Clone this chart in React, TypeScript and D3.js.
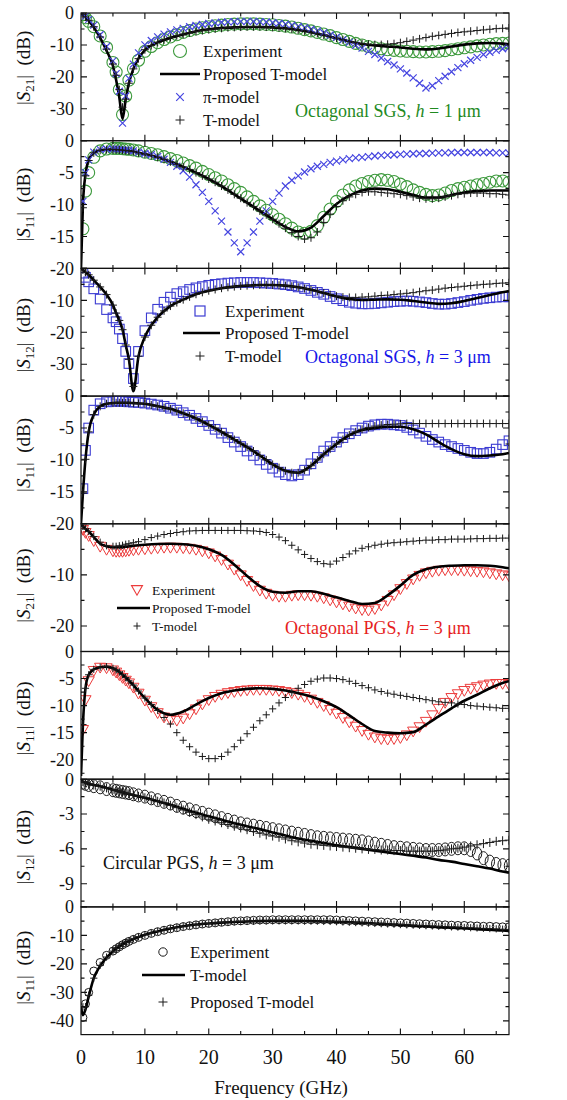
import React from "react";
import * as d3 from "d3";

// Frequency grid (GHz) of the sampled marker series
const FREQ_MARK = [
  0.3, 0.7, 1.2, 2, 3, 4, 5, 5.5, 6, 6.5, 7, 7.5, 8.2, 9,
  10, 11, 12, 13, 14, 15, 16, 17, 18, 19,
  20, 21, 22, 23, 24, 25, 26, 27, 28, 29,
  30, 31, 32, 33, 34, 35, 36, 37, 38, 39,
  40, 41, 42, 43, 44, 45, 46, 47, 48, 49,
  50, 51, 52, 53, 54, 55, 56, 57, 58, 59,
  60, 61, 62, 63, 64, 65, 66, 67,
];

// Frequency grid (GHz) of the solid model curves
const FREQ_LINE = [
  0, 0.3, 0.7, 1.2, 2, 3, 4, 5, 5.5, 6, 6.5, 7, 7.5, 8.2, 9, 10,
  12, 14, 16, 18, 20, 22, 24, 26, 28, 30, 32, 34, 36, 38, 40, 42, 44, 46, 48, 50, 52, 54, 56, 58, 60, 62, 64, 66,
  67,
];

const X_TICK_LABELS = ["0", "10", "20", "30", "40", "50", "60"];

// ---- Octagonal SGS, h = 1 um : |S21| ----
const P1_PROPOSED = [
  0, -0.5, -1.3, -2.4, -4.5, -7.8, -11.8, -16.6, -21, -26.5, -33.2, -27, -22, -17.5, -14.2, -11.6,
  -9.2, -7.8, -6.7, -5.7, -5.1, -4.7, -4.5, -4.4, -4.4, -4.5, -4.8, -5.3, -6, -6.9, -7.9, -8.9, -9.7, -10.2, -10.5, -10.8, -11.2, -11.4, -11.1, -10.5, -9.9, -9.5, -9.4, -9.6,
  -9.8,
];
const P1_EXP = [
  -0.5, -1.5, -2.6, -4.3, -7.2, -10.8, -15.5, -18.5, -24, -31.8, -26, -21, -17.5, -14.8,
  -12, -10.5, -9.3, -8.3, -7.5, -6.8, -6.1, -5.5, -5, -4.6,
  -4.3, -4, -3.8, -3.6, -3.5, -3.4, -3.4, -3.4, -3.5, -3.6,
  -3.7, -3.9, -4.1, -4.4, -4.8, -5.2, -5.6, -6.1, -6.6, -7.1,
  -7.7, -8.3, -8.9, -9.5, -10, -10.5, -10.9, -11.2, -11.5, -11.7,
  -11.9, -12, -12.1, -12.2, -12.2, -12.1, -12, -11.8, -11.5, -11.2,
  -10.9, -10.6, -10.3, -10, -9.8, -9.6, -9.5, -9.4,
];
const P1_PI = [
  -0.3, -1, -2, -3.8, -6.8, -10.5, -15, -19, -24.5, -34.5, -26, -20.5, -16, -12.5,
  -10, -8.6, -7.5, -6.6, -5.9, -5.3, -4.8, -4.3, -3.9, -3.6,
  -3.3, -3.1, -2.9, -2.8, -2.7, -2.6, -2.6, -2.6, -2.7, -2.8,
  -3, -3.2, -3.5, -3.8, -4.2, -4.6, -5.1, -5.6, -6.2, -6.9,
  -7.6, -8.4, -9.2, -10.1, -11, -12, -13, -14.1, -15.2, -16.3,
  -17.5, -18.8, -20.3, -22, -23.5, -22.8, -21.2, -19.8, -18.4, -17.1,
  -15.9, -14.8, -13.9, -13, -12.3, -11.7, -11.2, -10.8,
];
const P1_T = [
  -0.4, -1.2, -2.3, -4.3, -7.5, -11.3, -16, -19.5, -24, -29.5, -27, -22, -17.5, -14.3,
  -11.5, -10.2, -9.2, -8.4, -7.7, -7.1, -6.6, -6.2, -5.8, -5.5,
  -5.2, -5, -4.8, -4.6, -4.5, -4.4, -4.3, -4.3, -4.3, -4.4,
  -4.5, -4.6, -4.8, -5, -5.3, -5.6, -6, -6.4, -6.9, -7.4,
  -7.9, -8.4, -8.9, -9.3, -9.6, -9.8, -9.9, -9.9, -9.8, -9.6,
  -9.3, -8.9, -8.5, -8.1, -7.7, -7.3, -7, -6.7, -6.4, -6.1,
  -5.9, -5.7, -5.5, -5.3, -5.1, -4.9, -4.8, -4.7,
];

// ---- Octagonal SGS, h = 1 um : |S11| ----
const P2_PROPOSED = [
  -20, -10, -5.3, -3, -1.9, -1.5, -1.4, -1.4, -1.4, -1.45, -1.5, -1.55, -1.6, -1.7, -1.9, -2.1,
  -2.6, -3.3, -4.1, -5, -6, -7.1, -8.4, -9.7, -11, -12.3, -13.5, -14.2, -13.6, -11.8, -9.9, -8.6, -7.8, -7.5, -7.6, -8, -8.5, -8.9, -8.9, -8.5, -8.1, -7.9, -7.8, -7.8,
  -7.8,
];
const P2_EXP = [
  -13.8, -7.9, -5, -2.6, -1.6, -1.3, -1.2, -1.2, -1.2, -1.25, -1.3, -1.35, -1.45, -1.6,
  -1.8, -2, -2.2, -2.5, -2.8, -3.1, -3.5, -3.9, -4.3, -4.8,
  -5.3, -5.8, -6.3, -6.9, -7.5, -8.1, -8.8, -9.5, -10.2, -10.9,
  -11.6, -12.3, -13, -13.7, -14.3, -14.5, -14.2, -13.3, -12, -10.7,
  -9.5, -8.5, -7.7, -7.1, -6.7, -6.4, -6.2, -6.1, -6.2, -6.4,
  -6.8, -7.2, -7.7, -8.1, -8.4, -8.6, -8.5, -8.2, -7.8, -7.5,
  -7.3, -7.1, -6.9, -6.7, -6.5, -6.3, -6.3, -6.5,
];
const P2_PI = [
  -9.5, -5, -3, -1.8, -1.4, -1.3, -1.3, -1.3, -1.35, -1.4, -1.45, -1.5, -1.6, -1.8,
  -2, -2.2, -2.5, -2.9, -3.4, -4, -4.7, -5.7, -6.9, -8.1,
  -9.5, -11, -12.6, -14.3, -16, -17.4, -16, -14.3, -12.6, -11,
  -9.5, -8.2, -7.1, -6.2, -5.5, -4.9, -4.4, -4, -3.7, -3.4,
  -3.2, -3, -2.8, -2.7, -2.6, -2.5, -2.4, -2.3, -2.25, -2.2,
  -2.15, -2.1, -2.05, -2, -2, -1.95, -1.9, -1.9, -1.85, -1.85,
  -1.85, -1.85, -1.85, -1.85, -1.85, -1.9, -1.9, -1.95,
];
const P2_T = [
  -10.5, -5.5, -3.1, -1.9, -1.5, -1.4, -1.4, -1.4, -1.45, -1.5, -1.55, -1.6, -1.7, -1.9,
  -2.1, -2.3, -2.6, -2.9, -3.3, -3.7, -4.1, -4.5, -5, -5.5,
  -6, -6.5, -7.1, -7.7, -8.4, -9, -9.7, -10.3, -11, -11.6,
  -12.3, -13, -13.7, -14.4, -15, -15.4, -15.2, -14.3, -12.8, -11.5,
  -10.3, -9.4, -8.8, -8.4, -8.1, -8, -8, -8.1, -8.2, -8.3,
  -8.4, -8.6, -8.8, -9, -9.1, -9.1, -9, -8.8, -8.6, -8.4,
  -8.3, -8.2, -8.2, -8.2, -8.3, -8.3, -8.4, -8.5,
];

// ---- Octagonal SGS, h = 3 um : |S12| ----
const P3_PROPOSED = [
  0, -0.5, -1.2, -2, -3.7, -5.8, -8.2, -11.5, -14, -16.3, -19.2, -24, -28.5, -38.5, -27.5, -21.5,
  -15.3, -11.8, -9.8, -8.1, -7, -6.2, -5.7, -5.4, -5.2, -5.2, -5.4, -5.9, -6.7, -7.7, -8.8, -9.6, -9.9, -9.8, -9.7, -9.8, -10.2, -10.7, -11.1, -10.9, -10.2, -9.3, -8.3, -7.5,
  -7.1,
];
const P3_EXP = [
  -1.5, -2.8, -4.2, -6.4, -9.6, -12.9, -15.5, -16.7, -19, -22, -26, -29.8, -34.5, -26,
  -19.5, -15.5, -12.8, -10.6, -9, -7.9, -7.3, -6.6, -6.1, -5.7,
  -5.3, -5, -4.8, -4.6, -4.5, -4.4, -4.4, -4.4, -4.5, -4.6,
  -4.7, -4.9, -5.1, -5.4, -5.8, -6.3, -6.9, -7.5, -8.1, -8.8,
  -9.5, -10.1, -10.6, -10.9, -11.1, -11.1, -11, -10.8, -10.6, -10.4,
  -10.3, -10.2, -10.3, -10.5, -10.7, -11, -11.2, -11.2, -11, -10.7,
  -10.4, -10, -9.7, -9.4, -9.2, -9, -8.9, -8.9,
];
const P3_T = [
  -0.5, -1.2, -2, -3.7, -5.8, -8.2, -11.5, -14, -16.3, -19.2, -24, -28.5, -37, -27.5,
  -21.5, -17.8, -15.3, -13.3, -11.8, -10.7, -9.8, -8.9, -8.1, -7.5,
  -7, -6.6, -6.2, -5.9, -5.7, -5.5, -5.4, -5.3, -5.2, -5.2,
  -5.2, -5.3, -5.4, -5.6, -5.9, -6.3, -6.7, -7.2, -7.7, -8.2,
  -8.7, -9, -9.1, -9.1, -9, -8.9, -8.7, -8.5, -8.4, -8.2,
  -8, -7.8, -7.6, -7.3, -7, -6.8, -6.5, -6.2, -6, -5.8,
  -5.6, -5.4, -5.2, -5, -4.9, -4.7, -4.6, -4.5,
];

// ---- Octagonal SGS, h = 3 um : |S11| ----
const P4_PROPOSED = [
  -20, -15.2, -9.9, -5.6, -2.9, -1.6, -1.2, -1.1, -1.05, -1.05, -1.05, -1.05, -1.05, -1.1, -1.15, -1.2,
  -1.6, -2, -2.7, -3.5, -4.5, -5.6, -6.8, -8, -9.3, -10.7, -11.7, -12, -10.9, -9.1, -7.5, -6.1, -5.3, -5, -4.8, -4.8, -5.2, -6, -7.2, -8.3, -9.1, -9.4, -9.3, -9.1,
  -8.9,
];
const P4_EXP = [
  -14.5, -8.5, -5, -2.2, -1.2, -0.9, -0.8, -0.8, -0.8, -0.8, -0.85, -0.9, -0.95, -1,
  -1.1, -1.25, -1.4, -1.6, -1.9, -2.2, -2.6, -3, -3.5, -4,
  -4.6, -5.2, -5.8, -6.5, -7.2, -7.9, -8.6, -9.3, -10, -10.7,
  -11.3, -11.9, -12.3, -12.5, -12.3, -11.6, -10.6, -9.6, -8.6, -7.9,
  -7.2, -6.5, -5.9, -5.4, -5, -4.7, -4.5, -4.4, -4.4, -4.5,
  -4.6, -4.9, -5.3, -5.8, -6.3, -6.8, -7.2, -7.6, -7.9, -8.2,
  -8.5, -8.8, -9, -9, -8.8, -8.3, -7.6, -7,
];
const P4_T = [
  -15.2, -9.9, -5.6, -2.9, -1.6, -1.2, -1.1, -1.05, -1.05, -1.05, -1.05, -1.05, -1.1, -1.15,
  -1.2, -1.4, -1.6, -1.8, -2, -2.35, -2.7, -3.1, -3.5, -4,
  -4.5, -5, -5.6, -6.2, -6.8, -7.4, -8, -8.6, -9.3, -10,
  -10.7, -11.2, -11.7, -12, -12, -11.6, -10.9, -10, -9.1, -8.3,
  -7.5, -6.8, -6.1, -5.6, -5.2, -4.9, -4.7, -4.55, -4.45, -4.4,
  -4.35, -4.3, -4.3, -4.3, -4.3, -4.3, -4.3, -4.3, -4.3, -4.3,
  -4.3, -4.3, -4.3, -4.3, -4.3, -4.3, -4.3, -4.3,
];

// ---- Octagonal PGS, h = 3 um : |S21| ----
const P5_PROPOSED = [
  -0.3, -0.5, -1, -1.5, -2.6, -3.9, -4.4, -4.6, -4.6, -4.6, -4.6, -4.5, -4.4, -4.3, -4.2, -4.1,
  -3.95, -3.9, -4, -4.3, -5, -6.1, -8, -10.2, -12.2, -13.3, -13.5, -13.2, -13.2, -13.7, -14.4, -15.1, -15.7, -15.5, -14, -12.1, -10, -8.9, -8.4, -8.2, -8.1, -8.1, -8.2, -8.5,
  -8.7,
];
const P5_EXP = [
  -1.2, -1.8, -2.4, -3.4, -4.5, -5.1, -5.4, -5.5, -5.5, -5.5, -5.4, -5.3, -5.2, -5.1,
  -5, -4.9, -4.8, -4.7, -4.7, -4.7, -4.8, -4.9, -5.1, -5.4,
  -5.8, -6.4, -7.1, -8, -9, -10.1, -11.2, -12.2, -13.1, -13.7,
  -14.1, -14.3, -14.3, -14.1, -14, -14, -14.1, -14.3, -14.6, -15,
  -15.4, -15.8, -16.2, -16.6, -16.9, -17, -16.7, -16, -15.1, -14,
  -12.8, -11.8, -10.9, -10.2, -9.7, -9.4, -9.2, -9.1, -9.1, -9.1,
  -9.2, -9.3, -9.4, -9.5, -9.7, -9.9, -10.1, -10.3,
];
const P5_T = [
  -0.5, -1, -1.5, -2.5, -3.6, -4.3, -4.4, -4.4, -4.3, -4.2, -4, -3.9, -3.7, -3.5,
  -3.1, -2.7, -2.4, -2.1, -1.9, -1.7, -1.55, -1.4, -1.35, -1.3,
  -1.3, -1.3, -1.3, -1.3, -1.3, -1.3, -1.35, -1.4, -1.5, -1.7,
  -2.1, -2.6, -3.3, -4.2, -5.1, -6, -6.8, -7.4, -7.8, -7.9,
  -7.3, -6.6, -5.9, -5.3, -4.8, -4.5, -4.2, -4, -3.8, -3.7,
  -3.6, -3.5, -3.4, -3.3, -3.2, -3.2, -3.1, -3.1, -3, -3,
  -3, -2.95, -2.9, -2.9, -2.85, -2.85, -2.8, -2.8,
];

// ---- Octagonal PGS, h = 3 um : |S11| ----
const P6_PROPOSED = [
  -23, -13.5, -6.8, -4.3, -3.3, -2.9, -2.8, -3.1, -3.4, -3.8, -4.3, -4.8, -5.4, -6.2, -7.3, -8.6,
  -10.8, -11.7, -11.1, -9.8, -8.6, -7.7, -7.2, -6.9, -6.8, -6.9, -7.2, -7.7, -8.3, -9.2, -10.3, -11.8, -13.4, -14.7, -15, -15.1, -14.9, -13.5, -12, -10.5, -9.1, -8, -6.8, -5.8,
  -5.5,
];
const P6_EXP = [
  -14.5, -9, -5.5, -3.6, -3, -3.1, -3.5, -3.9, -4.4, -4.9, -5.4, -5.9, -6.7, -7.8,
  -9.1, -10.3, -11.4, -12.2, -12.7, -12.8, -12.4, -11.6, -10.7, -9.8,
  -9, -8.4, -8, -7.7, -7.5, -7.3, -7.2, -7.1, -7.1, -7.1,
  -7.2, -7.3, -7.5, -7.7, -8, -8.4, -8.9, -9.5, -10.1, -10.8,
  -11.5, -12.3, -13.1, -13.9, -14.7, -15.4, -15.9, -16.2, -16.3, -16.2,
  -16, -15.5, -14.8, -14, -13, -11.8, -10.6, -9.5, -8.6, -7.9,
  -7.3, -6.9, -6.6, -6.3, -6.1, -6, -6, -6.2,
];
const P6_T = [
  -13.5, -6.8, -4.3, -3.3, -2.9, -2.8, -3.1, -3.4, -3.8, -4.3, -4.8, -5.4, -6.2, -7.3,
  -8.6, -9.8, -10.9, -12.2, -13.4, -15, -16.4, -17.6, -18.6, -19.4,
  -19.8, -19.8, -19.4, -18.6, -17.6, -16.4, -15.2, -14, -12.8, -11.7,
  -10.6, -9.5, -8.5, -7.6, -6.8, -6.1, -5.5, -5.1, -4.9, -4.9,
  -5, -5.2, -5.5, -5.9, -6.3, -6.7, -7.1, -7.4, -7.7, -7.9,
  -8.1, -8.3, -8.5, -8.7, -8.9, -9.1, -9.3, -9.4, -9.5, -9.7,
  -9.8, -10, -10.1, -10.2, -10.3, -10.4, -10.5, -10.5,
];

// ---- Circular PGS, h = 3 um : |S12| ----
const P7_PROPOSED = [
  -0.15, -0.2, -0.3, -0.4, -0.5, -0.6, -0.75, -0.9, -0.97, -1.05, -1.12, -1.2, -1.27, -1.37, -1.48, -1.6,
  -1.9, -2.2, -2.55, -2.9, -3.2, -3.5, -3.8, -4.05, -4.3, -4.6, -4.85, -5.1, -5.3, -5.5, -5.7, -5.85, -6, -6.15, -6.3, -6.45, -6.6, -6.75, -6.95, -7.1, -7.3, -7.5, -7.7, -7.95,
  -8.05,
];
const P7_EXP = [
  -0.3, -0.4, -0.5, -0.6, -0.7, -0.85, -0.95, -1, -1.05, -1.1, -1.15, -1.2, -1.3, -1.4,
  -1.5, -1.65, -1.8, -1.95, -2.1, -2.3, -2.45, -2.6, -2.75, -2.9,
  -3.05, -3.2, -3.35, -3.5, -3.65, -3.8, -3.9, -4, -4.1, -4.2,
  -4.3, -4.4, -4.5, -4.6, -4.7, -4.8, -4.9, -5, -5.05, -5.1,
  -5.15, -5.2, -5.25, -5.3, -5.35, -5.45, -5.55, -5.65, -5.75, -5.85,
  -5.9, -5.95, -6, -6.05, -6.1, -6.1, -6.1, -6.05, -6, -5.95,
  -5.95, -6.1, -6.4, -6.8, -7.1, -7.3, -7.4, -7.45,
];
const P7_T = [
  -0.2, -0.3, -0.4, -0.5, -0.6, -0.75, -0.9, -0.97, -1.05, -1.12, -1.2, -1.27, -1.37, -1.48,
  -1.6, -1.75, -1.9, -2.05, -2.25, -2.45, -2.65, -2.85, -3.05, -3.25,
  -3.45, -3.6, -3.75, -3.9, -4.05, -4.2, -4.35, -4.5, -4.65, -4.8,
  -4.9, -5, -5.15, -5.3, -5.4, -5.5, -5.6, -5.65, -5.7, -5.75,
  -5.8, -5.85, -5.9, -5.95, -6, -6.05, -6.05, -6.1, -6.1, -6.15,
  -6.15, -6.2, -6.2, -6.2, -6.2, -6.2, -6.15, -6.1, -6, -5.95,
  -5.85, -5.75, -5.65, -5.55, -5.45, -5.35, -5.3, -5.25,
];

// ---- Circular PGS, h = 3 um : |S11| ----
const P8_TMODEL = [
  -35, -38, -36, -31.5, -25, -20.7, -17.8, -15.6, -14.7, -13.9, -13.2, -12.6, -12, -11.3, -10.6, -9.8,
  -8.6, -7.6, -6.8, -6.2, -5.8, -5.5, -5.3, -5.1, -5, -4.9, -4.9, -4.9, -5, -5.1, -5.2, -5.4, -5.6, -5.8, -6.1, -6.3, -6.6, -6.8, -7.1, -7.3, -7.5, -7.8, -8, -8.3,
  -8.4,
];
const P8_EXP = [
  -38.8, -34, -30, -22.5, -19.5, -17, -15.5, -14.7, -14, -13.3, -12.7, -12.1, -11.4, -10.7,
  -10, -9.3, -8.7, -8.2, -7.7, -7.3, -6.9, -6.6, -6.3, -6,
  -5.8, -5.6, -5.4, -5.2, -5, -4.9, -4.8, -4.7, -4.6, -4.6,
  -4.5, -4.5, -4.5, -4.5, -4.5, -4.5, -4.5, -4.5, -4.5, -4.5,
  -4.6, -4.7, -4.8, -4.9, -5, -5.1, -5.2, -5.3, -5.4, -5.5,
  -5.6, -5.7, -5.8, -5.9, -6, -6.1, -6.2, -6.3, -6.4, -6.5,
  -6.5, -6.6, -6.7, -6.8, -6.8, -6.9, -7, -7,
];
const P8_PROPOSED = [
  -35, -35, -31, -25, -20.5, -17.6, -15.5, -14.6, -13.8, -13.1, -12.5, -11.9, -11.2, -10.5,
  -9.8, -9.2, -8.6, -8.1, -7.6, -7.2, -6.8, -6.5, -6.2, -6,
  -5.8, -5.6, -5.4, -5.3, -5.2, -5.1, -5, -5, -4.9, -4.9,
  -4.9, -4.9, -4.9, -4.9, -4.9, -5, -5, -5, -5.1, -5.1,
  -5.2, -5.3, -5.4, -5.5, -5.6, -5.7, -5.8, -5.9, -6, -6.1,
  -6.2, -6.3, -6.4, -6.5, -6.6, -6.7, -6.8, -6.9, -7, -7.1,
  -7.2, -7.3, -7.4, -7.5, -7.6, -7.7, -7.8, -7.9,
];

// ---------------------------------------------------------------------------

const W = 567;
const H = 1100;
const LEFT = 81;
const RIGHT = 509;
const TOP = 13;
const PANEL_H = 127.7;
const FONT = "'Liberation Serif', 'Times New Roman', Times, serif";

const GREEN = "#3d9a3d";
const GREEN_TEXT = "#1f8a1f";
const PI_BLUE = "#4646e0";
const SQ_BLUE = "#3c3cd2";
const BLUE_TEXT = "#1616e8";
const RED = "#ec3c3c";
const RED_TEXT = "#e61e1e";
const PLUS = "#1a1a1a";

type Shape = "circle" | "ellipse" | "x" | "plus" | "square" | "tri";

interface MarkerSpec {
  values: number[];
  shape: Shape;
  color: string;
  size: number;
  sw: number;
}

interface LegendRow {
  kind: "marker" | "line";
  shape?: Shape;
  color?: string;
  size?: number;
  sw?: number;
  label: string;
  y: number;
}

interface LegendSpec {
  mx: number;
  lx1: number;
  lx2: number;
  tx: number;
  fontSize: number;
  rows: LegendRow[];
}

interface NoteSpec {
  x: number;
  y: number;
  color: string;
  pre: string;
  post: string;
}

interface PanelSpec {
  bottom: number;
  step: number;
  minor: number;
  labels: number[];
  sub: string;
  shift: number;
  line: number[];
  before: MarkerSpec[];
  after: MarkerSpec[];
  legend?: LegendSpec;
  note?: NoteSpec;
}

const PANELS: PanelSpec[] = [
  {
    bottom: -40, step: 10, minor: 5, labels: [0, -10, -20, -30], sub: "21", shift: -9,
    line: P1_PROPOSED,
    before: [{ values: P1_EXP, shape: "circle", color: GREEN, size: 6, sw: 1.1 }],
    after: [
      { values: P1_PI, shape: "x", color: PI_BLUE, size: 3.5, sw: 1.2 },
      { values: P1_T, shape: "plus", color: PLUS, size: 4, sw: 1 },
    ],
    legend: {
      mx: 180, lx1: 160, lx2: 200, tx: 203, fontSize: 17,
      rows: [
        { kind: "marker", shape: "circle", color: GREEN, size: 6.5, sw: 1.1, label: "Experiment", y: 51 },
        { kind: "line", label: "Proposed T-model", y: 74 },
        { kind: "marker", shape: "x", color: PI_BLUE, size: 3.8, sw: 1.2, label: "\u03c0-model", y: 97 },
        { kind: "marker", shape: "plus", color: PLUS, size: 4.5, sw: 1, label: "T-model", y: 120 },
      ],
    },
    note: { x: 295, y: 111, color: GREEN_TEXT, pre: "Octagonal SGS, ", post: " = 1 \u03bcm" },
  },
  {
    bottom: -20, step: 5, minor: 2.5, labels: [0, -5, -10, -15, -20], sub: "11", shift: 0,
    line: P2_PROPOSED,
    before: [{ values: P2_EXP, shape: "circle", color: GREEN, size: 6, sw: 1.1 }],
    after: [
      { values: P2_PI, shape: "x", color: PI_BLUE, size: 3.5, sw: 1.2 },
      { values: P2_T, shape: "plus", color: PLUS, size: 4, sw: 1 },
    ],
  },
  {
    bottom: -40, step: 10, minor: 5, labels: [-10, -20, -30], sub: "12", shift: 3,
    line: P3_PROPOSED,
    before: [{ values: P3_EXP, shape: "square", color: SQ_BLUE, size: 4.8, sw: 1.1 }],
    after: [{ values: P3_T, shape: "plus", color: PLUS, size: 4, sw: 1 }],
    legend: {
      mx: 200, lx1: 183, lx2: 220, tx: 225, fontSize: 17,
      rows: [
        { kind: "marker", shape: "square", color: SQ_BLUE, size: 5, sw: 1.2, label: "Experiment", y: 311 },
        { kind: "line", label: "Proposed T-model", y: 333 },
        { kind: "marker", shape: "plus", color: PLUS, size: 4.5, sw: 1, label: "T-model", y: 356 },
      ],
    },
    note: { x: 305, y: 357, color: BLUE_TEXT, pre: "Octagonal SGS, ", post: " = 3 \u03bcm" },
  },
  {
    bottom: -20, step: 5, minor: 2.5, labels: [0, -5, -10, -15, -20], sub: "11", shift: -5,
    line: P4_PROPOSED,
    before: [{ values: P4_EXP, shape: "square", color: SQ_BLUE, size: 4.8, sw: 1.1 }],
    after: [{ values: P4_T, shape: "plus", color: PLUS, size: 4, sw: 1 }],
  },
  {
    bottom: -25, step: 10, minor: 5, labels: [-10, -20], sub: "21", shift: -2,
    line: P5_PROPOSED,
    before: [{ values: P5_EXP, shape: "tri", color: RED, size: 5.6, sw: 1 }],
    after: [{ values: P5_T, shape: "plus", color: PLUS, size: 3.6, sw: 1 }],
    legend: {
      mx: 137, lx1: 117, lx2: 150, tx: 152, fontSize: 13.5,
      rows: [
        { kind: "marker", shape: "tri", color: RED, size: 5.5, sw: 1.1, label: "Experiment", y: 590 },
        { kind: "line", label: "Proposed T-model", y: 608 },
        { kind: "marker", shape: "plus", color: PLUS, size: 3.5, sw: 1, label: "T-model", y: 626 },
      ],
    },
    note: { x: 285, y: 628, color: RED_TEXT, pre: "Octagonal PGS, ", post: " = 3 \u03bcm" },
  },
  {
    bottom: -23.6, step: 5, minor: 2.5, labels: [0, -5, -10, -15, -20], sub: "11", shift: 3,
    line: P6_PROPOSED,
    before: [{ values: P6_EXP, shape: "tri", color: RED, size: 5.6, sw: 1 }],
    after: [{ values: P6_T, shape: "plus", color: PLUS, size: 3.6, sw: 1 }],
  },
  {
    bottom: -11, step: 3, minor: 1.5, labels: [0, -3, -6, -9], sub: "12", shift: 4,
    line: P7_PROPOSED,
    before: [{ values: P7_EXP, shape: "ellipse", color: PLUS, size: 6.5, sw: 1 }],
    after: [{ values: P7_T, shape: "plus", color: PLUS, size: 4.5, sw: 1 }],
    note: { x: 103, y: 863, color: "#111", pre: "Circular PGS, ", post: " = 3 \u03bcm" },
  },
  {
    bottom: -44.8, step: 10, minor: 5, labels: [0, -10, -20, -30, -40], sub: "11", shift: -3,
    line: P8_TMODEL,
    before: [{ values: P8_EXP, shape: "circle", color: PLUS, size: 4, sw: 1 }],
    after: [{ values: P8_PROPOSED, shape: "plus", color: PLUS, size: 3.6, sw: 1 }],
    legend: {
      mx: 163, lx1: 142, lx2: 185, tx: 190, fontSize: 17,
      rows: [
        { kind: "marker", shape: "circle", color: PLUS, size: 4.2, sw: 1, label: "Experiment", y: 952 },
        { kind: "line", label: "T-model", y: 975 },
        { kind: "marker", shape: "plus", color: PLUS, size: 4.5, sw: 1, label: "Proposed T-model", y: 1002 },
      ],
    },
  },
];

const xScale = d3.scaleLinear().domain([0, 67]).range([LEFT, RIGHT]);

function Marker(props: { shape: Shape; cx: number; cy: number; size: number; color: string; sw: number }) {
  const { shape, cx, cy, size: s, color, sw } = props;
  const common = { fill: "none", stroke: color, strokeWidth: sw };
  switch (shape) {
    case "circle":
      return <circle cx={cx} cy={cy} r={s} {...common} />;
    case "ellipse":
      return <ellipse cx={cx} cy={cy} rx={s * 0.72} ry={s} {...common} />;
    case "square":
      return <rect x={cx - s} y={cy - s} width={2 * s} height={2 * s} {...common} />;
    case "tri":
      return (
        <path
          d={`M${cx - s},${cy - s * 0.8}L${cx + s},${cy - s * 0.8}L${cx},${cy + s * 0.95}Z`}
          {...common}
        />
      );
    case "x":
      return (
        <path d={`M${cx - s},${cy - s}L${cx + s},${cy + s}M${cx - s},${cy + s}L${cx + s},${cy - s}`} {...common} />
      );
    case "plus":
    default:
      return <path d={`M${cx - s},${cy}H${cx + s}M${cx},${cy - s}V${cy + s}`} {...common} />;
  }
}

function Panel({ spec, index }: { spec: PanelSpec; index: number }) {
  const top = TOP + index * PANEL_H;
  const bot = top + PANEL_H;
  const y = d3.scaleLinear().domain([spec.bottom, 0]).range([bot, top]);
  const line = d3
    .line<number>()
    .x((_, i) => xScale(FREQ_LINE[i]))
    .y((v) => y(v))
    .curve(d3.curveMonotoneX);

  const clipId = `plot-clip-${index}`;
  const majorY = d3.range(0, spec.bottom - 1e-6, -spec.step);
  const minorY = d3.range(-spec.minor, spec.bottom - 1e-6, -spec.step).filter((v) => v > spec.bottom);
  const majorX = d3.range(10, 67, 10);
  const minorX = d3.range(5, 67, 10);
  const MAJ = 6;
  const MIN = 3.5;

  const renderMarkers = (m: MarkerSpec, key: string) => (
    <g key={key}>
      {m.values.map((v, i) => (
        <Marker key={i} shape={m.shape} cx={xScale(FREQ_MARK[i])} cy={y(v)} size={m.size} color={m.color} sw={m.sw} />
      ))}
    </g>
  );

  const tickPath: string[] = [];
  majorY.forEach((v) => {
    const yy = y(v);
    tickPath.push(`M${LEFT},${yy}h${MAJ}`, `M${RIGHT},${yy}h${-MAJ}`);
  });
  minorY.forEach((v) => {
    const yy = y(v);
    tickPath.push(`M${LEFT},${yy}h${MIN}`, `M${RIGHT},${yy}h${-MIN}`);
  });
  majorX.forEach((f) => {
    const xx = xScale(f);
    tickPath.push(`M${xx},${top}v${MAJ}`, `M${xx},${bot}v${-MAJ}`);
  });
  minorX.forEach((f) => {
    const xx = xScale(f);
    tickPath.push(`M${xx},${top}v${MIN}`, `M${xx},${bot}v${-MIN}`);
  });

  const cy = (top + bot) / 2 + spec.shift;

  return (
    <g>
      <defs>
        <clipPath id={clipId}>
          <rect x={LEFT} y={top} width={RIGHT - LEFT} height={PANEL_H} />
        </clipPath>
      </defs>
      <g clipPath={`url(#${clipId})`}>
        {spec.before.map((m, k) => renderMarkers(m, `b${k}`))}
        <path d={line(spec.line) || ""} fill="none" stroke="#000" strokeWidth={2.6} />
        {spec.after.map((m, k) => renderMarkers(m, `a${k}`))}
      </g>
      <rect x={LEFT} y={top} width={RIGHT - LEFT} height={PANEL_H} fill="none" stroke="#111" strokeWidth={1.2} />
      <path d={tickPath.join("")} stroke="#111" strokeWidth={1.1} fill="none" />
      {spec.labels.map((v) => (
        <text key={v} x={74} y={y(v)} dy="0.35em" textAnchor="end" fontSize={18} fontFamily={FONT} fill="#111">
          {String(v)}
        </text>
      ))}
      <text
        transform={`translate(30, ${cy}) rotate(-90)`}
        textAnchor="middle"
        fontSize={19}
        fontFamily={FONT}
        fill="#111"
      >
        {"|"}
        <tspan fontStyle="italic">S</tspan>
        <tspan dy={4} fontSize={13}>
          {spec.sub}
        </tspan>
        <tspan dy={-4}>{"|\u00a0\u00a0(dB)"}</tspan>
      </text>
      {spec.legend && (
        <g fontFamily={FONT} fontSize={spec.legend.fontSize} fill="#111">
          {spec.legend.rows.map((r, k) => (
            <g key={k}>
              {r.kind === "line" ? (
                <line x1={spec.legend!.lx1} x2={spec.legend!.lx2} y1={r.y} y2={r.y} stroke="#000" strokeWidth={2.6} />
              ) : (
                <Marker shape={r.shape!} cx={spec.legend!.mx} cy={r.y} size={r.size!} color={r.color!} sw={r.sw!} />
              )}
              <text x={spec.legend!.tx} y={r.y} dy="0.35em">
                {r.label}
              </text>
            </g>
          ))}
        </g>
      )}
      {spec.note && (
        <text x={spec.note.x} y={spec.note.y} dy="0.35em" fontSize={18} fontFamily={FONT} fill={spec.note.color}>
          {spec.note.pre}
          <tspan fontStyle="italic">h</tspan>
          {spec.note.post}
        </text>
      )}
    </g>
  );
}

export default function App() {
  const bottom = TOP + PANELS.length * PANEL_H;
  return (
    <svg
      width={W}
      height={H}
      viewBox={`0 0 ${W} ${H}`}
      style={{ position: "absolute", left: 0, top: 0, background: "#fff", display: "block" }}
    >
      <rect x={0} y={0} width={W} height={H} fill="#fff" />
      {PANELS.map((p, i) => (
        <Panel key={i} spec={p} index={i} />
      ))}
      {X_TICK_LABELS.map((t) => (
        <text
          key={t}
          x={xScale(+t)}
          y={bottom + 29}
          textAnchor="middle"
          fontSize={20}
          fontFamily={FONT}
          fill="#111"
        >
          {t}
        </text>
      ))}
      <text x={281} y={1094} textAnchor="middle" fontSize={19} fontFamily={FONT} fill="#111">
        Frequency (GHz)
      </text>
    </svg>
  );
}
